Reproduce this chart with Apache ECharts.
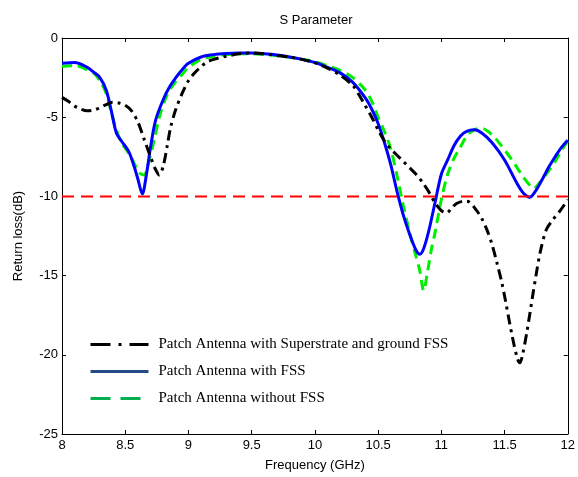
<!DOCTYPE html>
<html>
<head>
<meta charset="utf-8">
<script src="https://cdn.jsdelivr.net/npm/echarts@6/dist/echarts.min.js"></script>
<style>
html,body{margin:0;padding:0;background:#fff;}
#chart{width:578px;height:477px;}
</style>
</head>
<body>
<div id="chart"></div>
<script>
// ---- Data ----
var seriesNames = [
  'Patch Antenna with Superstrate and ground FSS',
  'Patch Antenna with FSS',
  'Patch Antenna without FSS'
];

var blackFreq = [8.0, 8.05, 8.1, 8.15, 8.2, 8.25, 8.3, 8.35, 8.4, 8.45, 8.5, 8.55, 8.6, 8.65, 8.7, 8.74, 8.77, 8.8, 8.83, 8.86, 8.9, 8.95, 9.0, 9.05, 9.1, 9.15, 9.2, 9.3, 9.4, 9.5, 9.6, 9.7, 9.8, 9.9, 10.0, 10.1, 10.2, 10.3, 10.35, 10.4, 10.45, 10.5, 10.55, 10.6, 10.65, 10.7, 10.75, 10.8, 10.85, 10.9, 10.95, 11.0, 11.04, 11.08, 11.12, 11.18, 11.22, 11.28, 11.32, 11.36, 11.4, 11.44, 11.48, 11.51, 11.56, 11.6, 11.62, 11.64, 11.68, 11.73, 11.78, 11.83, 11.88, 11.94, 12.0];
var blackDb = [-3.75, -4.0, -4.3, -4.5, -4.6, -4.55, -4.4, -4.2, -4.05, -4.1, -4.25, -4.6, -5.3, -6.4, -7.5, -8.3, -8.65, -8.1, -6.9, -5.6, -4.5, -3.5, -2.7, -2.2, -1.8, -1.5, -1.35, -1.15, -1.0, -0.95, -1.0, -1.1, -1.2, -1.35, -1.57, -1.9, -2.35, -3.0, -3.6, -4.3, -5.0, -5.8, -6.5, -7.0, -7.4, -7.8, -8.2, -8.6, -9.1, -9.7, -10.4, -10.9, -11.05, -10.75, -10.45, -10.3, -10.35, -10.9, -11.4, -12.1, -13.0, -14.2, -15.5, -16.7, -18.8, -20.2, -20.5, -20.1, -18.4, -15.9, -13.6, -12.1, -11.5, -10.9, -10.2];

var blueFreq = [8.0, 8.1, 8.2, 8.25, 8.3, 8.35, 8.39, 8.43, 8.47, 8.53, 8.57, 8.6, 8.635, 8.67, 8.7, 8.74, 8.8, 8.85, 8.9, 8.95, 9.0, 9.1, 9.2, 9.3, 9.4, 9.5, 9.6, 9.7, 9.8, 9.9, 10.0, 10.1, 10.2, 10.3, 10.4, 10.45, 10.5, 10.55, 10.6, 10.65, 10.7, 10.75, 10.8, 10.83, 10.86, 10.9, 10.95, 11.0, 11.05, 11.1, 11.15, 11.2, 11.26, 11.32, 11.4, 11.5, 11.6, 11.65, 11.7, 11.75, 11.8, 11.85, 11.9, 11.95, 12.0];
var blueDb = [-1.6, -1.55, -1.85, -2.15, -2.5, -3.3, -4.6, -6.0, -6.5, -7.2, -8.1, -8.9, -9.85, -8.5, -6.9, -5.2, -3.9, -3.1, -2.5, -2.0, -1.6, -1.2, -1.05, -0.98, -0.95, -0.95, -1.0, -1.08, -1.2, -1.35, -1.55, -1.85, -2.2, -2.8, -3.8, -4.5, -5.4, -6.6, -8.0, -9.7, -11.2, -12.4, -13.4, -13.65, -13.3, -12.2, -10.4, -8.6, -7.7, -6.8, -6.2, -5.9, -5.8, -6.0, -6.6, -7.7, -9.2, -9.8, -10.05, -9.6, -8.9, -8.15, -7.5, -6.9, -6.45];

var greenFreq = [8.0, 8.1, 8.2, 8.25, 8.3, 8.35, 8.39, 8.43, 8.47, 8.53, 8.57, 8.61, 8.65, 8.69, 8.73, 8.77, 8.81, 8.85, 8.9, 8.95, 9.0, 9.1, 9.2, 9.3, 9.4, 9.5, 9.6, 9.7, 9.8, 9.9, 10.0, 10.1, 10.2, 10.3, 10.4, 10.45, 10.5, 10.55, 10.6, 10.65, 10.7, 10.75, 10.8, 10.83, 10.86, 10.89, 10.92, 10.95, 11.0, 11.05, 11.1, 11.15, 11.2, 11.26, 11.32, 11.4, 11.47, 11.55, 11.6, 11.65, 11.7, 11.73, 11.78, 11.83, 11.9, 11.95, 12.0];
var greenDb = [-1.8, -1.75, -2.0, -2.2, -2.7, -3.5, -4.7, -5.8, -6.6, -7.3, -7.9, -8.5, -8.65, -7.7, -6.4, -5.0, -4.0, -3.3, -2.75, -2.3, -1.85, -1.35, -1.15, -1.05, -1.0, -1.0, -1.05, -1.12, -1.22, -1.35, -1.5, -1.75, -2.05, -2.5, -3.3, -4.0, -5.0, -5.9, -7.0, -8.7, -10.6, -12.3, -13.8, -14.7, -15.95, -14.8, -13.4, -12.3, -10.2, -8.6, -7.6, -6.9, -6.2, -5.8, -5.7, -6.1, -6.75, -7.6, -8.2, -8.8, -9.3, -9.5, -9.1, -8.6, -7.8, -7.1, -6.5];

var thresholdFreq = [8, 12];
var thresholdDb = [-10, -10];

var xTicks = [8, 8.5, 9, 9.5, 10, 10.5, 11, 11.5, 12];
var yTicks = [-25, -20, -15, -10, -5, 0];

function pairs(xs, ys) {
  var out = [];
  for (var i = 0; i < xs.length; i++) out.push([xs[i], ys[i]]);
  return out;
}

var chart = echarts.init(document.getElementById('chart'), null, {renderer: 'canvas'});

var sansFont = '"Liberation Sans", Arial, sans-serif';
var serifFont = '"Liberation Serif", "Times New Roman", serif';

function xAxisBase(pos, showLabel) {
  return {
    type: 'value', position: pos,
    min: xTicks[0], max: xTicks[xTicks.length - 1], interval: 0.5,
    axisLine: {show: true, onZero: false, lineStyle: {color: '#000', width: 1}},
    axisTick: {show: true, inside: true, length: 4, lineStyle: {color: '#000'}},
    axisLabel: {show: showLabel, color: '#000', fontFamily: sansFont, fontSize: 13, margin: 5},
    splitLine: {show: false}
  };
}
function yAxisBase(pos, showLabel) {
  return {
    type: 'value', position: pos,
    min: yTicks[0], max: yTicks[yTicks.length - 1], interval: 5,
    axisLine: {show: true, onZero: false, lineStyle: {color: '#000', width: 1}},
    axisTick: {show: true, inside: true, length: 4, lineStyle: {color: '#000'}},
    axisLabel: {show: showLabel, color: '#000', fontFamily: sansFont, fontSize: 13, margin: 4},
    splitLine: {show: false}
  };
}

var xBottom = xAxisBase('bottom', true);
xBottom.name = 'Frequency (GHz)';
xBottom.nameLocation = 'middle';
xBottom.nameGap = 25;
xBottom.nameTextStyle = {color: '#000', fontFamily: sansFont, fontSize: 13};
var xTop = xAxisBase('top', false);

var yLeft = yAxisBase('left', true);
yLeft.name = 'Return loss(dB)';
yLeft.nameLocation = 'middle';
yLeft.nameGap = 37;
yLeft.nameTextStyle = {color: '#000', fontFamily: sansFont, fontSize: 13};
var yRight = yAxisBase('right', false);

var hiddenSymbol = {color: 'rgba(0,0,0,0)', borderColor: 'rgba(0,0,0,0)', borderWidth: 0, opacity: 0};

var option = {
  backgroundColor: '#fff',
  animation: false,
  title: {
    text: 'S Parameter',
    left: 316, top: 14, textAlign: 'center', padding: 0,
    textStyle: {color: '#000', fontWeight: 'normal', fontFamily: sansFont, fontSize: 13}
  },
  grid: {left: 62, right: 7, top: 38, bottom: 37, containLabel: false},
  legend: {
    orient: 'vertical', left: 89, top: 337, padding: 0,
    itemWidth: 58, itemHeight: 14, itemGap: 12,
    textStyle: {color: '#000', fontFamily: serifFont, fontSize: 15, padding: [0, 0, 0, 5]},
    data: [
      {name: seriesNames[0], itemStyle: hiddenSymbol, lineStyle: {color: '#000', width: 3, type: [20, 8, 3, 8]}},
      {name: seriesNames[1], itemStyle: hiddenSymbol, lineStyle: {color: '#254a85', width: 3, type: 'solid'}},
      {name: seriesNames[2], itemStyle: hiddenSymbol, lineStyle: {color: '#00b050', width: 3, type: [20, 10]}}
    ]
  },
  xAxis: [xBottom, xTop],
  yAxis: [yLeft, yRight],
  series: [
    {
      name: seriesNames[2], type: 'line', xAxisIndex: 0, yAxisIndex: 0,
      data: pairs(greenFreq, greenDb), symbol: 'none', smooth: 0.3,
      lineStyle: {color: '#00ee00', width: 3, type: [10, 6]}, itemStyle: {color: '#00ee00'}
    },
    {
      name: seriesNames[1], type: 'line', xAxisIndex: 0, yAxisIndex: 0,
      data: pairs(blueFreq, blueDb), symbol: 'none', smooth: 0.3,
      lineStyle: {color: '#0000ff', width: 3, type: 'solid'}, itemStyle: {color: '#0000ff'}
    },
    {
      name: seriesNames[0], type: 'line', xAxisIndex: 0, yAxisIndex: 0,
      data: pairs(blackFreq, blackDb), symbol: 'none', smooth: 0.3,
      lineStyle: {color: '#000', width: 3, type: [10, 5, 3, 5]}, itemStyle: {color: '#000'}
    },
    {
      name: 'threshold', type: 'line', xAxisIndex: 0, yAxisIndex: 0,
      data: pairs(thresholdFreq, thresholdDb), symbol: 'none',
      lineStyle: {color: '#ff0000', width: 2, type: [12, 7]}, itemStyle: {color: '#ff0000'}
    }
  ]
};
chart.setOption(option);
</script>
</body>
</html>
